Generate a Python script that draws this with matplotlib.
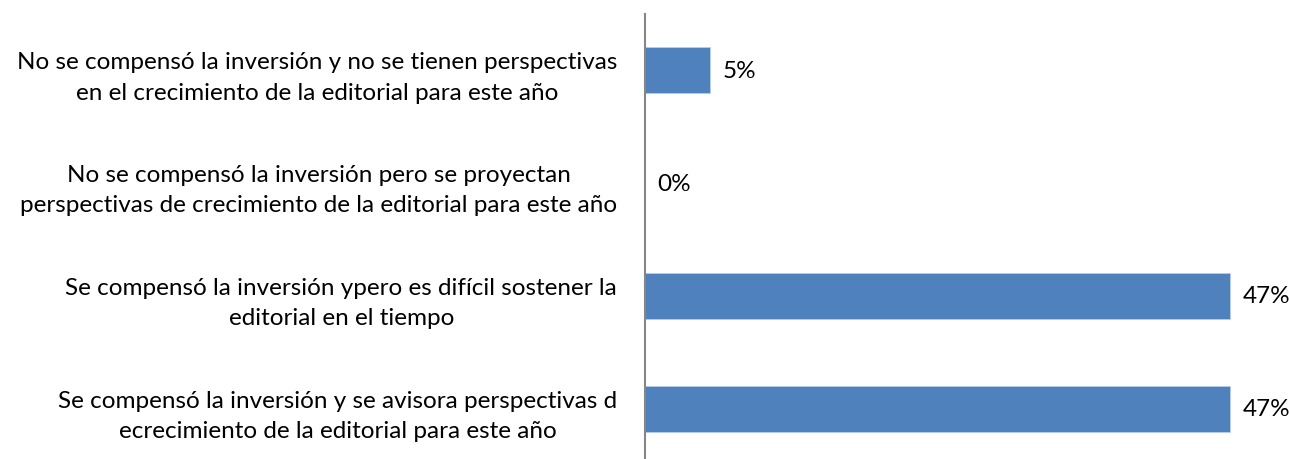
import matplotlib
matplotlib.use("Agg")
from matplotlib import pyplot as plt

# datos
categorias = [
    "No se compensó la inversión y no se tienen perspectivas\nen el crecimiento de la editorial para este año",
    "No se compensó la inversión pero se proyectan\nperspectivas de crecimiento de la editorial para este año",
    "Se compensó la inversión ypero es difícil sostener la\neditorial en el tiempo",
    "Se compensó la inversión y se avisora perspectivas d\necrecimiento de la editorial para este año",
]
porcentajes = [5.26, 0.0, 47.37, 47.37]
etiquetas = ["5%", "0%", "47%", "47%"]

plt.rcParams["font.family"] = ["Lato", "DejaVu Sans"]

fig = plt.figure(figsize=(12.89, 4.60), dpi=100)
ax = fig.add_axes([645 / 1289, -6 / 460, 1 - 645 / 1289, 451 / 460])

pos = list(range(len(categorias)))
ax.barh(pos, porcentajes, height=0.41, color="#4F81BD", edgecolor="#B9CDE5", linewidth=0.6)

ax.set_xlim(0, 52.15)
ax.set_ylim(3.5, -0.5)

for y, v, t in zip(pos, porcentajes, etiquetas):
    ax.annotate(t, (v, y), xytext=(9, 0), textcoords="offset points",
                ha="left", va="center", fontsize=17.5, color="#000000")

ax.set_yticks(pos)
ax.set_yticklabels(categorias, fontsize=17.5, multialignment="center", linespacing=1.55)
ax.tick_params(axis="y", length=0, pad=20)
ax.set_xticks([])

for s in ["top", "right", "bottom"]:
    ax.spines[s].set_visible(False)
ax.spines["left"].set_color("#868686")
ax.spines["left"].set_linewidth(1.5)

fig.savefig("out.png", dpi=100)
